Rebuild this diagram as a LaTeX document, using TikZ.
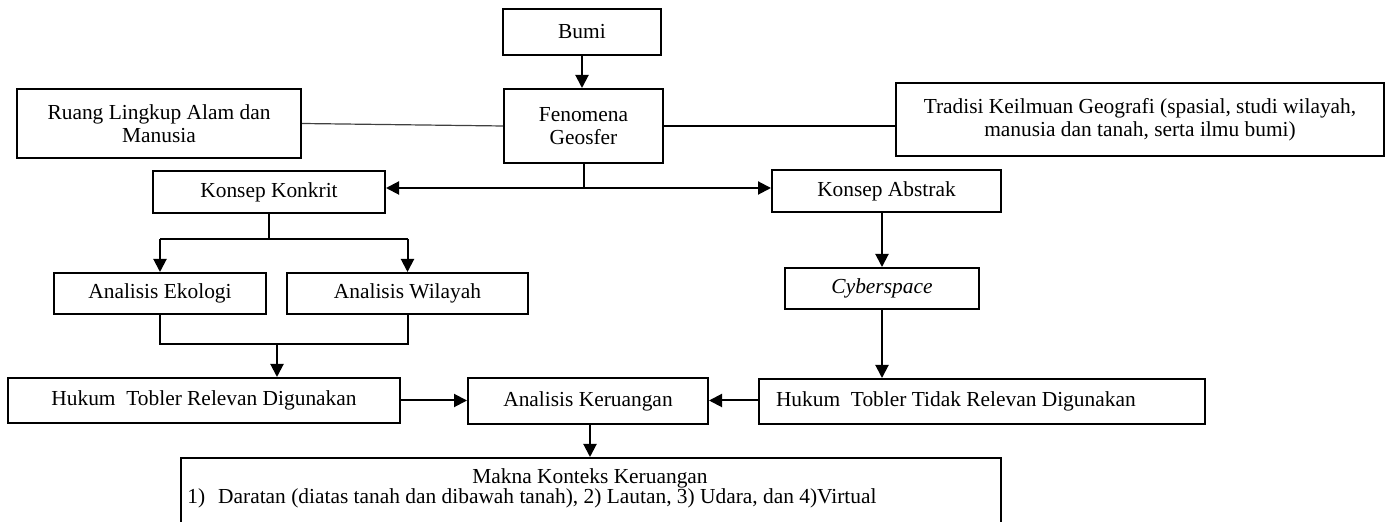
\documentclass[tikz,border=0pt]{standalone}
\usepackage{fontspec}
\setmainfont{Liberation Serif}
\usetikzlibrary{arrows.meta}
\tikzset{>={Triangle[width=6.5pt,length=6.5pt]}}
\tikzset{
  blok/.style={draw, line width=1pt, inner sep=2pt, align=center,
    font=\fontsize{10.7}{11.6}\selectfont},
  teks/.style={inner sep=0pt, font=\fontsize{10.7}{11.6}\selectfont},
  garis/.style={line width=1pt},
}

\begin{document}
\begin{tikzpicture}[x=0.5pt,y=-0.5pt]

  \useasboundingbox (0,0) rectangle (1392,522); %% page size
  \clip (0,0) rectangle (1392,522);

  %% top
  \node[blok, minimum width=79pt, minimum height=23pt] (bumi) at (582,32) {Bumi};
  \node[blok, minimum width=79.5pt, minimum height=37pt] (feno) at (583.5,126)
    {Fenomena\\Geosfer};
  \node[blok, minimum width=142pt, minimum height=34.5pt] (ruang) at (159,123.5)
    {Ruang Lingkup Alam dan\\Manusia};
  \node[blok, minimum width=244pt, minimum height=36.5pt] (tradisi) at (1140,119.5)
    {Tradisi Keilmuan Geografi (spasial, studi wilayah,\\manusia dan tanah, serta ilmu bumi)};

  %% konsep
  \node[blok, minimum width=116pt, minimum height=21pt] (konkrit) at (269,192) {Konsep Konkrit};
  \node[blok, minimum width=114.5pt, minimum height=21pt] (abstrak) at (886.5,191) {Konsep Abstrak};

  %% analisis
  \node[blok, minimum width=106pt, minimum height=20.5pt] (ekologi) at (160,293.5) {Analisis Ekologi};
  \node[blok, minimum width=120.5pt, minimum height=20.5pt] (wilayah) at (407.5,293.5) {Analisis Wilayah};
  \node[blok, minimum width=97pt, minimum height=20.5pt] (cyber) at (882,288.5) {\textit{Cyberspace}};

  %% hukum tobler
  \node[blok, minimum width=196pt, minimum height=22.5pt] (relevan) at (204,400.5)
    {Hukum\ \ Tobler Relevan Digunakan};
  \node[blok, minimum width=120pt, minimum height=23pt] (keruangan) at (588,401)
    {Analisis Keruangan};
  \node[blok, text width=206pt, inner xsep=8.5pt, align=flush left, minimum height=22.5pt]
    (tidak) at (982,401.5) {Hukum\ \ Tobler Tidak Relevan Digunakan};

  %% makna
  \node[blok, minimum width=410pt, minimum height=45pt, anchor=north] (makna) at (591,457) {};
  \node[teks] (maknajudul) at (590,478.5) {Makna Konteks Keruangan};
  \node[teks, anchor=west] (maknaisi) at (187,498.5)
    {1)\hspace{6.5pt}Daratan (diatas tanah dan dibawah tanah), 2) Lautan, 3) Udara, dan 4)Virtual};

  %% connectors
  \coordinate (cabang) at (583.5,188);
  \coordinate (kiri) at (269,239);
  \coordinate (gabung) at (277,344);
  \coordinate (kanan) at (882,0);

  \draw[garis,->] (bumi.south) -- (bumi.south |- feno.north);
  \draw[line width=0.6pt, black!75] (ruang.east) -- (feno.west);
  \draw[garis] (feno.east) -- (feno.east -| tradisi.west);

  \draw[garis] (feno.south) -- (feno.south |- cabang);
  \draw[garis,->] (cabang) -- (cabang -| konkrit.east);
  \draw[garis,->] (cabang) -- (cabang -| abstrak.west);

  \draw[garis] (konkrit.south) -- (kiri);
  \draw[garis,->] (kiri -| ekologi.north) -- (ekologi.north);
  \draw[garis,->] (kiri -| wilayah.north) -- (wilayah.north);
  \draw[garis] (kiri -| ekologi.north) -- (kiri -| wilayah.north);

  \draw[garis] (ekologi.south) -- (gabung -| ekologi.south)
    -- (gabung -| wilayah.south) -- (wilayah.south);
  \draw[garis,->] (gabung) -- (gabung |- relevan.north);

  \draw[garis,->] (kanan |- abstrak.south) -- (kanan |- cyber.north);
  \draw[garis,->] (cyber.south) -- (cyber.south |- tidak.north);

  \draw[garis,->] (relevan.east) -- (relevan.east -| keruangan.west);
  \draw[garis,->] (tidak.west |- relevan.east) -- (relevan.east -| keruangan.east);
  \draw[garis,->] (keruangan.south -| 590,0) -- (makna.north -| 590,0);

\end{tikzpicture}
\end{document}
